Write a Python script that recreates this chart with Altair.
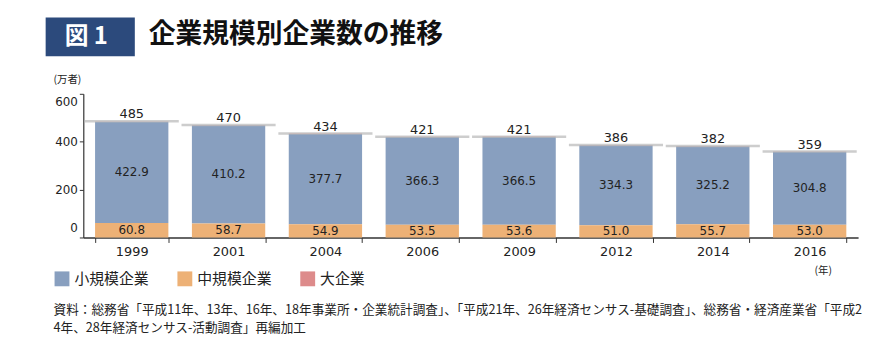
import altair as alt
import pandas as pd

# ---- data ----
years = ["1999", "2001", "2004", "2006", "2009", "2012", "2014", "2016"]
small = [422.9, 410.2, 377.7, 366.3, 366.5, 334.3, 325.2, 304.8]
medium = [60.8, 58.7, 54.9, 53.5, 53.6, 51.0, 55.7, 53.0]
large = [1.2, 1.2, 1.2, 1.2, 1.2, 1.1, 1.1, 1.1]
totals = [485, 470, 434, 421, 421, 386, 382, 359]
categories = ["小規模企業", "中規模企業", "大企業"]
stack_rank = [1, 0, 2]
colors = ["#889fbf", "#edb176", "#dd8b8b"]

title_text = "企業規模別企業数の推移"
fig_label = "図 1"
unit_label = "(万者)"
year_unit = "(年)"
source_lines = [
    "資料：総務省「平成11年、13年、16年、18年事業所・企業統計調査」、「平成21年、26年経済センサス-基礎調査」、総務省・経済産業省「平成2",
    "4年、28年経済センサス-活動調査」再編加工",
]

JP = "Noto Sans CJK JP"
NUM = "DejaVu Sans"

rows = []
for ci, (cat, vals) in enumerate(zip(categories, [small, medium, large])):
    for y, v in zip(years, vals):
        rows.append({"year": y, "cat": cat, "value": v, "ord": stack_rank[ci],
                     "label": f"{v:.1f}"})
df = pd.DataFrame(rows)
tot_df = pd.DataFrame({"year": years, "total": totals})

xenc = alt.X("year:N", sort=years, title=None,
             scale=alt.Scale(paddingInner=0.243, paddingOuter=0.1215),
             axis=alt.Axis(labelAngle=0, labelFont=NUM, labelFontSize=13,
                           labelColor="#222", labelPadding=3,
                           tickBand="extent", tickSize=5, tickColor="#333",
                           domainColor="#333", domainWidth=1.5, grid=False))
yscale = alt.Scale(domain=[0, 600], nice=False)

bars = alt.Chart(df).mark_bar().encode(
    x=xenc,
    y=alt.Y("value:Q", stack="zero", scale=yscale, title=None,
            axis=alt.Axis(values=[0, 200, 400, 600], labelFont=NUM,
                          labelFontSize=12, labelColor="#222", labelFlush=True,
                          labelFlushOffset=-3,
                          labelPadding=2, tickSize=4, tickColor="#333",
                          domainColor="#333", domainWidth=1.2, grid=False)),
    color=alt.Color("cat:N", scale=alt.Scale(domain=categories, range=colors),
                    legend=alt.Legend(orient="none", legendX=-29, legendY=179,
                                      direction="horizontal", title=None,
                                      symbolType="square", symbolSize=225,
                                      symbolStrokeWidth=0, symbolOpacity=1,
                                      labelFont=JP, labelFontSize=15,
                                      labelColor="#222", labelOffset=5,
                                      columnPadding=28, padding=0)),
    order=alt.Order("ord:Q", sort="ascending"),
)

seg_labels = alt.Chart(df).transform_stack(
    stack="value", groupby=["year"], as_=["v0", "v1"],
    sort=[alt.SortField(field="ord", order="ascending")],
).transform_filter("datum.cat != '大企業'").transform_calculate(
    mid="(datum.v0 + datum.v1) / 2"
).mark_text(font=NUM, fontSize=12, color="#222", baseline="middle").encode(
    x=alt.X("year:N", sort=years),
    y=alt.Y("mid:Q", scale=yscale),
    text="label:N",
)

tot_lines = alt.Chart(tot_df).mark_tick(size=95, thickness=2.5, color="#b8b8b8").encode(
    x=alt.X("year:N", sort=years),
    y=alt.Y("total:Q", scale=yscale),
)
tot_text = alt.Chart(tot_df).mark_text(font=NUM, fontSize=13, color="#222",
                                       baseline="alphabetic", dy=-3).encode(
    x=alt.X("year:N", sort=years),
    y=alt.Y("total:Q", scale=yscale),
    text="total:Q",
)

# ---- decorations ----
box = alt.Chart(pd.DataFrame({"t": [fig_label]})).mark_rect(color="#2c4a7c").encode(
    x=alt.value(-38), x2=alt.value(52), y=alt.value(-77), y2=alt.value(-38))
box_text = alt.Chart(pd.DataFrame({"t": [fig_label]})).mark_text(
    font=JP, fontSize=24, fontWeight="bold", color="white", align="center",
    baseline="middle").encode(x=alt.value(3), y=alt.value(-57), text="t:N")
title = alt.Chart(pd.DataFrame({"t": [title_text]})).mark_text(
    font=JP, fontSize=27, fontWeight="bold", color="#111", align="left",
    baseline="middle").encode(x=alt.value(66), y=alt.value(-59), text="t:N")
unit = alt.Chart(pd.DataFrame({"t": [unit_label]})).mark_text(
    font=JP, fontSize=10.5, color="#222", align="left", baseline="middle").encode(
    x=alt.value(-30), y=alt.value(-14), text="t:N")
yunit = alt.Chart(pd.DataFrame({"t": [year_unit]})).mark_text(
    font=JP, fontSize=10.5, color="#222", align="left", baseline="middle").encode(
    x=alt.value(738), y=alt.value(179), text="t:N")
src1 = alt.Chart(pd.DataFrame({"t": [source_lines[0]]})).mark_text(
    font=JP, fontSize=12.75, color="#222", align="left", baseline="middle").encode(
    x=alt.value(-30), y=alt.value(218), text="t:N")
src2 = alt.Chart(pd.DataFrame({"t": [source_lines[1]]})).mark_text(
    font=JP, fontSize=12.75, color="#222", align="left", baseline="middle").encode(
    x=alt.value(-30), y=alt.value(236), text="t:N")

chart = alt.layer(
    bars, seg_labels, tot_lines, tot_text,
    box, box_text, title, unit, yunit, src1, src2,
).properties(
    width=782, height=145, autosize="none",
    padding={"left": 76, "top": 85, "right": 9, "bottom": 117},
).configure_view(stroke=None)

chart.save("out.html", embed_options={"renderer": "svg", "actions": False})
